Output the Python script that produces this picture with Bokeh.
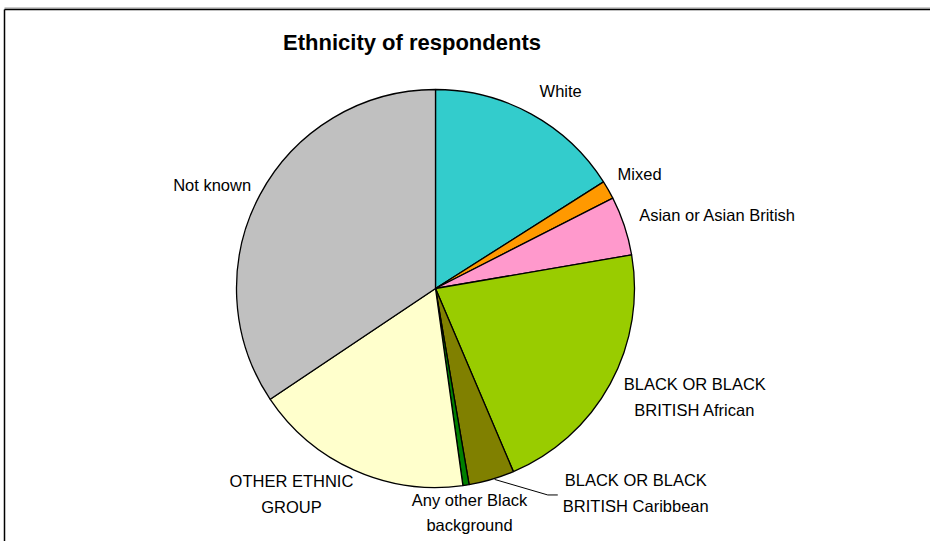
import math
from bokeh.plotting import figure
from bokeh.models import Range1d
from bokeh.core.properties import value
from bokeh.embed import file_html
from bokeh.resources import INLINE

# ---- data (percent of respondents, clockwise from 12 o'clock) ----
categories = [
    "White",
    "Mixed",
    "Asian or Asian British",
    "BLACK OR BLACK\nBRITISH African",
    "BLACK OR BLACK\nBRITISH Caribbean",
    "Any other Black\nbackground",
    "OTHER ETHNIC\nGROUP",
    "Not known",
]
shares = [16.0, 1.5, 4.8, 21.3, 3.7, 0.5, 17.8, 34.4]
colors = ["#33CCCC", "#FF9900", "#FF99CC", "#99CC00", "#808000", "#008000", "#FFFFCC", "#C0C0C0"]
title_text = "Ethnicity of respondents"

# ---- layout (pixel units; y measured downward from top) ----
W, H = 930, 541
CX, CY_DOWN, R = 435, 288, 199
LABEL_R = 235
# per-label nudges (dx right, dy down) in pixels from the polar anchor
nudges = [(12, 8), (0, 2), (59, 1), (53, -4), (134, -21), (-2, -8), (-48, -9), (-16, 7)]
FONT = value("Liberation Sans")

def ydat(y_down):
    return H - y_down

p = figure(width=W, height=H, output_backend="svg", toolbar_location=None,
           x_range=Range1d(0, W), y_range=Range1d(0, H),
           min_border=0, min_border_left=0, min_border_right=0,
           min_border_top=0, min_border_bottom=0)
p.axis.visible = False
p.grid.visible = False
p.outline_line_color = None
p.background_fill_color = "white"
p.border_fill_color = "white"

cy = ydat(CY_DOWN)
total = sum(shares)
cum = 0.0
starts, ends, mids = [], [], []
for s in shares:
    a0 = cum / total * 2 * math.pi
    cum += s
    a1 = cum / total * 2 * math.pi
    starts.append(math.pi / 2 - a1)
    ends.append(math.pi / 2 - a0)
    mids.append((a0 + a1) / 2)

p.wedge(x=[CX] * len(shares), y=[cy] * len(shares), radius=R, radius_units="data",
        start_angle=starts, end_angle=ends, fill_color=colors,
        line_color="black", line_width=1.3)

# labels
lx, ly = [], []
for th, (dx, dy) in zip(mids, nudges):
    lx.append(CX + LABEL_R * math.sin(th) + dx)
    ly.append(cy + LABEL_R * math.cos(th) - dy)
p.text(x=lx, y=ly, text=categories, text_align="center", text_baseline="middle",
       text_font=FONT, text_font_size="16.5px", text_color="black", text_line_height=1.42)

# leader line for the Caribbean label
i = 4
th = mids[i]
x0 = CX + R * math.sin(th) + 3
y0 = cy + R * math.cos(th)
p.line(x=[x0, lx[i] - 88, lx[i] - 78], y=[y0, ly[i] - 2, ly[i] - 2], line_color="black", line_width=1)

# title
p.text(x=[411.5], y=[ydat(42)], text=[title_text], text_align="center",
       text_baseline="alphabetic", text_font=FONT, text_font_style="bold",
       text_font_size="22px", text_color="black")

# chart-area border (top and left edges visible)
p.line(x=[4, W + 5], y=[ydat(7.5), ydat(7.5)], line_color="#999999", line_width=1)
p.line(x=[4, W + 5], y=[ydat(9), ydat(9)], line_color="black", line_width=1.5)
p.line(x=[4, 4], y=[ydat(9), -5], line_color="black", line_width=1.5)

open("out.html", "w").write(file_html(p, INLINE))
